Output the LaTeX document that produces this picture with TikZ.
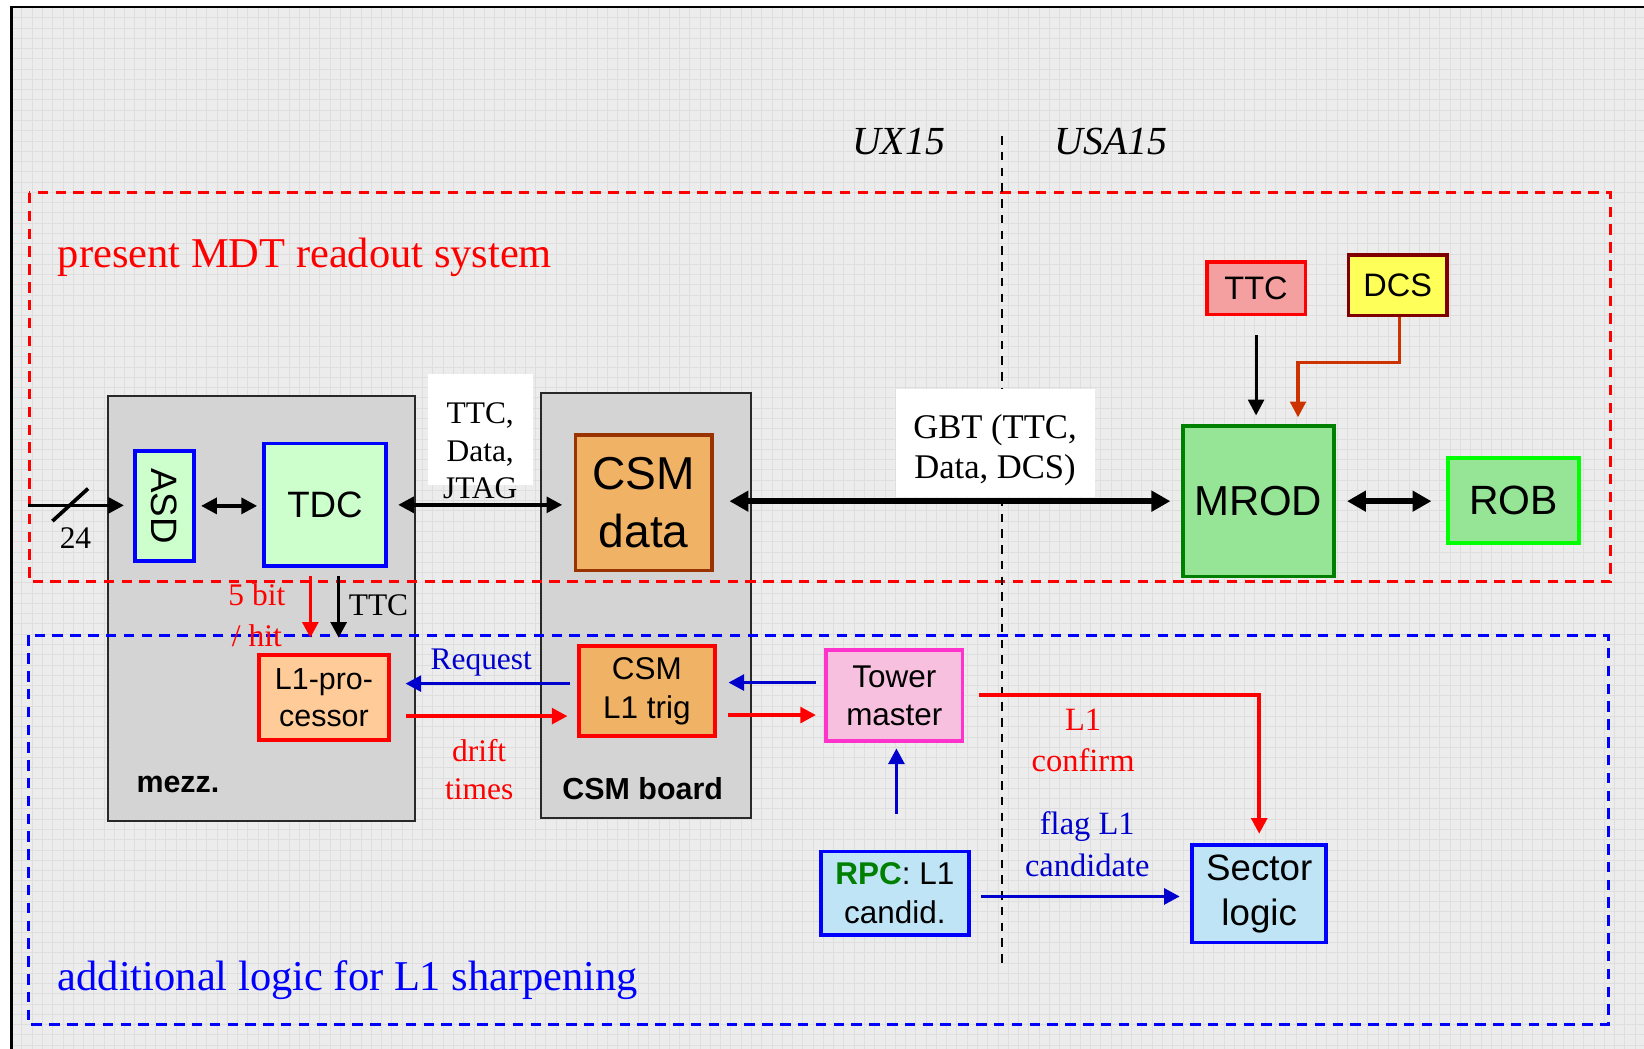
\documentclass[tikz,border=0pt]{standalone}
\usepackage{fontspec}
\setmainfont{Liberation Serif}
\setsansfont{Liberation Sans}
\usetikzlibrary{arrows.meta,calc}
\newcommand\fsz[2]{\fontsize{#1}{#2}\selectfont}
\definecolor{bggray}{RGB}{236,236,236}
\definecolor{gridc}{RGB}{222,222,222}
\definecolor{boxgray}{RGB}{212,212,212}
\definecolor{framegray}{RGB}{40,40,40}
\definecolor{lgreen}{RGB}{204,255,204}
\definecolor{csmorange}{RGB}{240,178,100}
\definecolor{brownb}{RGB}{153,51,0}
\definecolor{l1fill}{RGB}{255,204,153}
\definecolor{towerfill}{RGB}{246,192,222}
\definecolor{towerb}{RGB}{255,51,204}
\definecolor{lblue}{RGB}{190,228,245}
\definecolor{mrodfill}{RGB}{150,228,150}
\definecolor{mrodb}{RGB}{0,128,0}
\definecolor{robb}{RGB}{0,255,0}
\definecolor{ttcfill}{RGB}{245,160,160}
\definecolor{dcsfill}{RGB}{255,255,90}
\definecolor{dcsb}{RGB}{128,0,0}
\definecolor{dcsarr}{RGB}{204,51,0}
\definecolor{dblue}{RGB}{0,0,204}
\definecolor{rpcgreen}{RGB}{0,128,0}
\begin{document}
\begin{tikzpicture}[x=1pt,y=-1pt,
  arr/.style={line width=3.5pt,-{Triangle[length=15pt,width=15pt]}},
  darr/.style={line width=3.5pt,{Triangle[length=15pt,width=15pt]}-{Triangle[length=15pt,width=15pt]}},
  thickdarr/.style={line width=6pt,{Triangle[length=18pt,width=19pt]}-{Triangle[length=18pt,width=19pt]}},
  blk/.style={draw,line width=3.5pt,inner sep=0pt,align=center,font=\sffamily},
  graybox/.style={draw=framegray,line width=2pt,fill=boxgray,inner sep=0pt},
  whitebox/.style={fill=white,inner sep=0pt},
  tx/.style={inner sep=0pt,align=center},
  gridline/.style={gridc,line width=0.7pt},
  reddash/.style={red,line width=3pt,dash pattern=on 10pt off 7pt},
  bluedash/.style={blue,line width=3pt,dash pattern=on 10pt off 7pt},
  sitedash/.style={black,line width=2pt,dash pattern=on 8pt off 7pt}]
\useasboundingbox (0,0) rectangle (1568,1000.5);
\fill[white] (0,0) rectangle (1568,1000.5);
\fill[bggray] (11,7) rectangle (1568,1000.5);
\foreach \i in {1,...,159} \draw[gridline] ({11+\i*9.8},7) -- ({11+\i*9.8},1000.5);
\foreach \j in {1,...,101} \draw[gridline] (11,{7+\j*9.8}) -- (1568,{7+\j*9.8});
\draw[line width=2pt] (11,1000.5) -- (11,7) -- (1568,7);

% gray boards
\node[graybox,minimum width=293,minimum height=405] (mezz) at (249.5,580.5) {};
\node[graybox,minimum width=200,minimum height=405] (board) at (616,577.5) {};

% regions
\draw[reddash] (28,184) rectangle (1536,555);
\draw[bluedash] (27,606) rectangle (1534,977);
\coordinate (sitetop) at (956,130);
\coordinate (sitebot) at (956,918);
\draw[sitedash] (sitetop) -- (sitebot);

% white label boxes
\node[whitebox,minimum width=100,minimum height=106] (lblA) at (458,410) {};
\node[whitebox,minimum width=189,minimum height=103] (lblB) at (949.5,422.5) {};

% boxes
\node[blk,draw=blue,fill=lgreen,minimum width=56,minimum height=105] (asd) at (157,482.5) {};
\node[inner sep=0pt,rotate=-90,font=\sffamily\fsz{35}{40}] (asdtxt) at (asd.center) {ASD};
\node[blk,draw=blue,fill=lgreen,minimum width=116,minimum height=117,font=\sffamily\fsz{35}{40}] (tdc) at (310,481.5) {TDC};
\node[blk,draw=brownb,fill=csmorange,minimum width=130,minimum height=129,font=\sffamily\fsz{44}{55}] (csmdata) at (614,479.5) {CSM\\data};
\node[blk,draw=mrodb,fill=mrodfill,minimum width=144,minimum height=144,font=\sffamily\fsz{40}{46}] (mrod) at (1200,478) {MROD};
\node[blk,draw=robb,fill=mrodfill,minimum width=125,minimum height=81,font=\sffamily\fsz{39}{46}] (rob) at (1443.5,477.5) {ROB};
\node[blk,draw=red,fill=ttcfill,minimum width=94,minimum height=50,font=\sffamily\fsz{31}{36}] (ttc) at (1198,275) {TTC};
\node[blk,draw=dcsb,fill=dcsfill,minimum width=94,minimum height=58,font=\sffamily\fsz{31}{36}] (dcs) at (1333,272) {DCS};
\node[blk,draw=red,fill=l1fill,minimum width=124,minimum height=81,font=\sffamily\fsz{29}{36}] (l1p) at (309,665.5) {L1-pro-\\cessor};
\node[blk,draw=red,fill=csmorange,minimum width=130,minimum height=86,font=\sffamily\fsz{30}{37}] (csml1) at (617,659) {CSM\\L1 trig};
\node[blk,draw=towerb,fill=towerfill,minimum width=130,minimum height=87,font=\sffamily\fsz{30}{36}] (tower) at (853,663.5) {Tower\\master};
\node[blk,draw=blue,fill=lblue,minimum width=141,minimum height=80,font=\sffamily\fsz{30}{37}] (rpc) at (853.5,852) {\textbf{\color{rpcgreen}RPC}: L1\\candid.};
\node[blk,draw=blue,fill=lblue,minimum width=128,minimum height=93,font=\sffamily\fsz{35}{43}] (sector) at (1201,852.5) {Sector\\logic};

% connectors
\coordinate (in) at (27,482);
\draw[arr] (in) -- ([xshift=-9pt]asd.west |- in);
\coordinate (slA) at (50,497);
\coordinate (slB) at (84,466);
\draw[line width=3.5pt] (slA) -- (slB);
\draw[darr,shorten <=5pt,shorten >=5pt] (asd.east) -- (asd.east -| tdc.west);
\draw[darr,shorten <=10pt,shorten >=11pt] (tdc.east) -- (tdc.east -| csmdata.west);
\draw[thickdarr,shorten <=15pt,shorten >=10pt] (csmdata.east |- mrod.west) -- (mrod.west);
\draw[thickdarr,shorten <=11pt,shorten >=14pt] (mrod.east) -- (mrod.east -| rob.west);
\draw[arr,line width=3pt,shorten <=18pt,shorten >=8pt] (ttc.south) -- (ttc.south |- mrod.north);
\draw[arr,dcsarr,line width=3pt,shorten >=8pt] ([xshift=2pt]dcs.south) |- (1238,346) -- (1238,406);
\draw[arr,red,shorten <=8pt,shorten >=15pt] ([xshift=-14pt]tdc.south) -- ([xshift=-14pt]tdc.south |- l1p.north);
\draw[arr,shorten <=8pt,shorten >=15pt] ([xshift=13pt]tdc.south) -- ([xshift=13pt]tdc.south |- l1p.north);
\draw[arr,dblue,shorten <=7pt,shorten >=14pt] ([yshift=7pt]csml1.west) -- ([yshift=7pt]csml1.west -| l1p.east);
\draw[arr,red,shorten <=14pt,shorten >=9pt] ([yshift=-17.5pt]l1p.east) -- ([yshift=-17.5pt]l1p.east -| csml1.west);
\draw[arr,dblue,shorten <=8pt,shorten >=11pt] ([yshift=8pt]csml1.east -| tower.west) -- ([yshift=8pt]csml1.east);
\draw[arr,red,shorten <=11pt,shorten >=8pt] ([yshift=-23pt]csml1.east) -- ([yshift=-23pt]csml1.east -| tower.west);
\draw[arr,red,shorten <=14pt,shorten >=9pt] (tower.east |- 0,663) -| (sector.north);
\draw[arr,dblue,shorten <=34pt,shorten >=5pt] (rpc.north -| 855,0) -- (tower.south -| 855,0);
\draw[arr,dblue,shorten <=10pt,shorten >=10pt] (rpc.east |- 0,855) -- (sector.west |- 0,855);

% free labels
\node[tx,font=\itshape\fsz{38}{44}] (ux) at (857,135) {UX15};
\node[tx,font=\itshape\fsz{38}{44}] (usa) at (1060,135) {USA15};
\node[tx,red,anchor=base west,font=\fsz{40.5}{46}] (present) at (55,255) {present MDT readout system};
\node[tx,blue,anchor=base west,font=\fsz{40.5}{46}] (additional) at (55,945) {additional logic for L1 sharpening};
\node[tx,font=\fsz{30}{36}] (n24) at (72,513) {24};
\node[tx,font=\fsz{30}{36}] (lblAtxt) at (458,430) {TTC,\\Data,\\JTAG};
\node[tx,font=\fsz{33}{38}] (lblBtxt) at (949,429) {GBT (TTC,\\Data, DCS)};
\node[tx,red,font=\fsz{30}{39}] (fivebit) at (245,587) {5 bit\\/ hit};
\node[tx,font=\fsz{30}{36}] (ttclbl) at (361,577) {TTC};
\node[tx,dblue,font=\fsz{30}{36}] (req) at (459,632) {Request};
\node[tx,red,font=\fsz{30}{37}] (drift) at (457,734) {drift\\times};
\node[tx,red,font=\fsz{31}{39}] (confirm) at (1033,706) {L1\\confirm};
\node[tx,dblue,font=\fsz{31}{40}] (flag) at (1037,805) {flag L1\\candidate};
\node[tx,anchor=west,font=\sffamily\bfseries\fsz{29}{34}] (mezztxt) at (130,748) {mezz.};
\node[tx,font=\sffamily\bfseries\fsz{29}{34}] (boardtxt) at (613,752) {CSM board};
\end{tikzpicture}
\end{document}
